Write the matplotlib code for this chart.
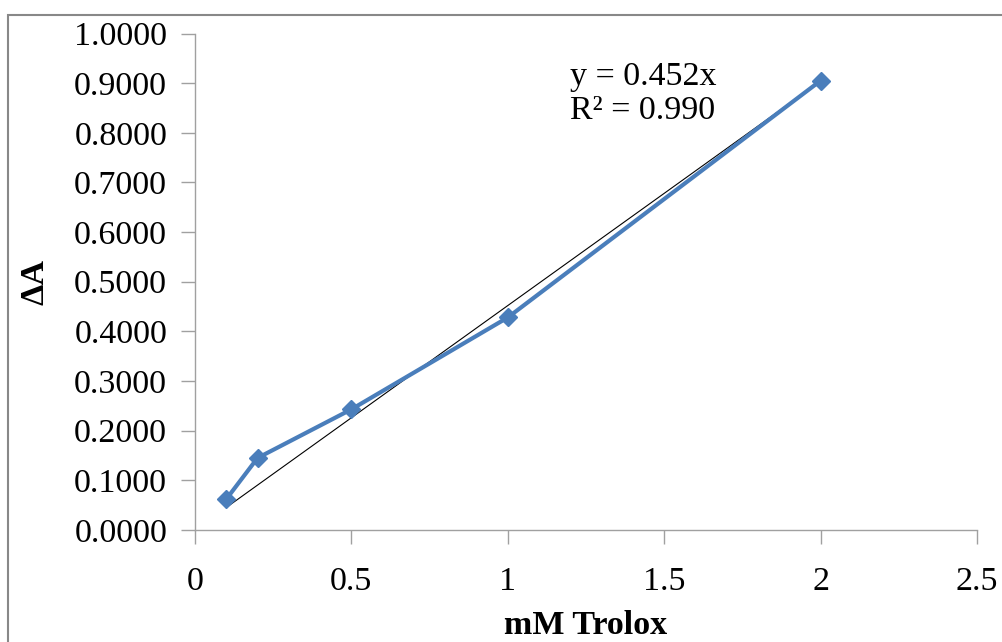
import numpy as np
import matplotlib.pyplot as plt
from matplotlib.patches import Rectangle

plt.rcParams['font.family'] = ['Liberation Serif', 'DejaVu Serif']

# data
conc = [0.1, 0.2, 0.5, 1.0, 2.0]
dA = [0.062, 0.145, 0.243, 0.428, 0.905]
slope = 0.452
eq_text = 'y = 0.452x\nR² = 0.990'
xticks = [0, 0.5, 1, 1.5, 2, 2.5]
xtick_labels = ['0', '0.5', '1', '1.5', '2', '2.5']
yticks = np.arange(0, 1.01, 0.1)

fig = plt.figure(figsize=(10.02, 6.42), dpi=100)
ax = fig.add_axes([0.1946, 0.1745, 0.7804, 0.7733])

# trendline through origin
tx = np.array([conc[0], conc[-1]])
ax.plot(tx, slope * tx, color='black', lw=0.8, zorder=3)

ax.plot(conc, dA, color='#4A7EBB', lw=3, marker='D', markersize=9,
        markerfacecolor='#4A7EBB', markeredgecolor='#4A7EBB', zorder=4)

ax.set_xlim(0, 2.5)
ax.set_ylim(0, 1.0)
ax.set_xticks(xticks)
ax.set_xticklabels(xtick_labels)
ax.set_yticks(yticks)
ax.set_yticklabels(['%.4f' % v for v in yticks])

for s in ['top', 'right']:
    ax.spines[s].set_visible(False)
for s in ['left', 'bottom']:
    ax.spines[s].set_color('#A0A0A0')
    ax.spines[s].set_linewidth(1)
ax.tick_params(axis='both', direction='out', length=10, color='#A0A0A0',
               labelsize=24.5, width=1)
ax.tick_params(axis='x', pad=16)
ax.tick_params(axis='y', pad=10)

ax.set_xlabel('mM Trolox', fontsize=24.5, fontweight='bold', labelpad=10)
ax.set_ylabel('ΔA', fontsize=24.5, fontweight='bold')
ax.yaxis.set_label_coords(-0.185, 0.5)

ax.text(1.2, 0.943, eq_text, fontsize=24.5, va='top', ha='left',
        linespacing=1.15)

# figure border
fig.patches.append(Rectangle((8 / 1002, -0.05), 1.05, 1.05 - 15 / 642,
                             transform=fig.transFigure, fill=False,
                             edgecolor='#888888', lw=1.5))

fig.savefig('out.png', dpi=100)
